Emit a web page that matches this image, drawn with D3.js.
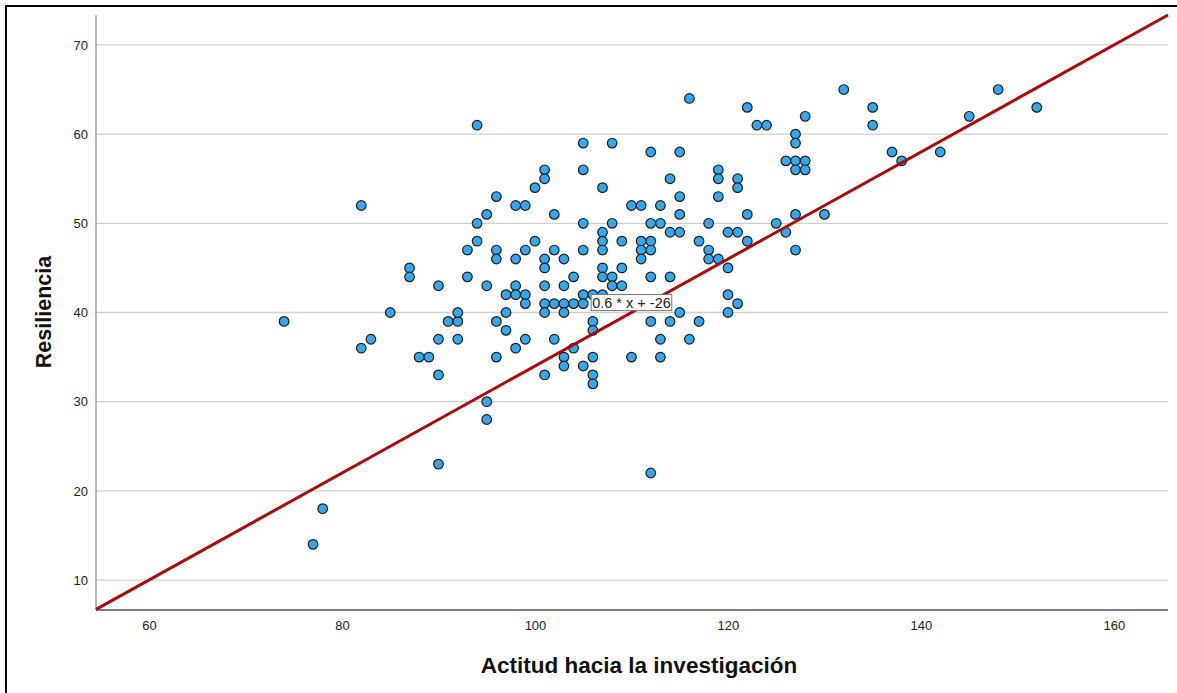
<!DOCTYPE html>
<html>
<head>
<meta charset="utf-8">
<script src="https://cdn.jsdelivr.net/npm/d3@7"></script>
<style>
body{margin:0;background:#fff}
svg{display:block}
</style>
</head>
<body>
<svg width="1177" height="693"></svg>
<script>
// Actitud hacia la investigación (x) vs Resiliencia (y)
const xs=[74,82,82,83,85,87,87,88,89,90,90,90,90,91,92,92,92,93,93,94,94,94,95,95,95,95,
96,96,96,96,96,97,97,97,98,98,98,98,98,99,99,99,99,99,100,100,101,101,101,101,101,101,101,101,
102,102,102,102,103,103,103,103,103,103,104,104,104,105,105,105,105,105,105,105,
106,106,106,106,106,106,107,107,107,107,107,107,107,108,108,108,108,109,109,109,
110,110,111,111,111,111,112,112,112,112,112,112,112,113,113,113,113,114,114,114,114,
115,115,115,115,115,116,116,117,117,118,118,118,119,119,119,119,120,120,120,120,
121,121,121,121,122,122,122,123,124,125,126,126,127,127,127,127,127,127,128,128,128,
130,132,135,135,137,138,142,145,148,152,78,77]
const ys=[39,52,36,37,40,45,44,35,35,43,37,33,23,39,39,40,37,47,44,50,48,61,51,43,30,28,
53,47,46,39,35,40,42,38,52,46,43,42,36,52,47,42,41,37,48,54,56,55,46,45,43,41,40,33,
51,47,41,37,46,43,41,35,34,40,44,41,36,59,56,50,47,42,41,34,
42,39,38,35,33,32,54,49,48,47,45,44,42,59,50,44,43,48,45,43,
52,35,52,48,47,46,58,50,48,47,44,39,22,52,50,37,35,55,49,44,39,
58,53,51,49,40,64,37,48,39,50,47,46,56,55,53,46,49,45,42,40,
55,54,49,41,63,51,48,61,61,50,57,49,60,59,57,56,51,47,62,57,56,
51,65,63,61,58,57,58,62,65,63,18,14]
const xTicks=[60,80,100,120,140,160]
const yTicks=[10,20,30,40,50,60,70]
const slope=0.6, intercept=-26
const xTitle="Actitud hacia la investigación"
const yTitle="Resiliencia"

const svg=d3.select("svg")
const L=96,R=1168,T=15,B=610
const x=d3.scaleLinear().domain([54.51,165.6]).range([L,R])
const y=d3.scaleLinear().domain([6.64,73.36]).range([B,T])

// frame
svg.append("rect").attr("x",6).attr("y",6).attr("width",1200).attr("height",720)
.attr("fill","none").attr("stroke","#000").attr("stroke-width",2)

// grid
svg.append("g").selectAll("line").data(yTicks).join("line")
.attr("x1",L).attr("x2",R).attr("y1",d=>y(d)).attr("y2",d=>y(d))
.attr("stroke","#cfcfcf").attr("stroke-width",1.3)

// axes
const ya=svg.append("g").attr("transform",`translate(${L},0)`)
.call(d3.axisLeft(y).tickValues(yTicks).tickSize(0).tickPadding(8))
ya.select(".domain").remove()
ya.selectAll("text").attr("font-family","Arial, Liberation Sans").attr("font-size",13).attr("fill","#222")
const xa=svg.append("g").attr("transform",`translate(0,${B})`)
.call(d3.axisBottom(x).tickValues(xTicks).tickSize(0).tickPadding(11))
xa.select(".domain").remove()
xa.selectAll("text").attr("font-family","Arial, Liberation Sans").attr("font-size",13).attr("fill","#222")
svg.append("line").attr("x1",L).attr("x2",L).attr("y1",T).attr("y2",B).attr("stroke","#a0a0a0").attr("stroke-width",1.5)
svg.append("line").attr("x1",L).attr("x2",R).attr("y1",B).attr("y2",B).attr("stroke","#555").attr("stroke-width",1.5)

// points
const pts=xs.map((v,i)=>[v,ys[i]])
svg.append("g").selectAll("circle").data(pts).join("circle")
.attr("cx",d=>x(d[0])).attr("cy",d=>y(d[1])).attr("r",4.8)
.attr("fill","#33a8ee").attr("stroke","#1a1a1a").attr("stroke-width",1.2)

// fit line
const x0=x.domain()[0],x1=x.domain()[1]
svg.append("line").attr("x1",x(x0)).attr("y1",y(slope*x0+intercept))
.attr("x2",x(x1)).attr("y2",y(slope*x1+intercept))
.attr("stroke","#aa0b0b").attr("stroke-width",3)

// equation label
const lx=110
const lab=svg.append("g").attr("transform",`translate(${x(lx)},${y(slope*lx+intercept)-10})`)
const t=lab.append("text").text(`${slope} * x + ${intercept}`).attr("text-anchor","middle").attr("dy","0.35em")
.attr("font-family","Arial, Liberation Sans").attr("font-size",14.5).attr("fill","#222")
const bb=t.node().getBBox()
lab.insert("rect","text").attr("x",bb.x-1).attr("y",bb.y).attr("width",bb.width+2).attr("height",bb.height)
.attr("fill","#fff").attr("stroke","#777").attr("stroke-width",1)

// titles
svg.append("text").attr("x",639).attr("y",673).attr("text-anchor","middle")
.attr("font-family","Arial, Liberation Sans").attr("font-weight","bold").attr("font-size",22.5).attr("fill","#111").text(xTitle)
svg.append("text").attr("transform","translate(51,312) rotate(-90)").attr("text-anchor","middle")
.attr("font-family","Arial, Liberation Sans").attr("font-weight","bold").attr("font-size",21.5).attr("fill","#111").text(yTitle)
</script>
</body>
</html>
